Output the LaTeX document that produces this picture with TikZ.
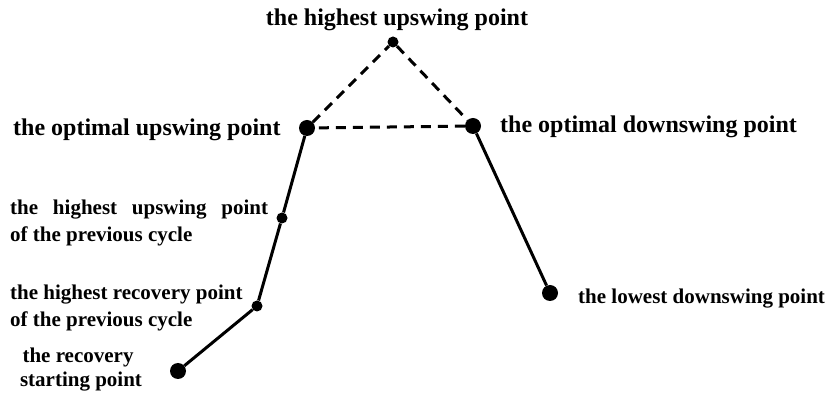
\documentclass[tikz,border=0pt]{standalone}
\usepackage{fontspec}
\setmainfont{Liberation Serif}
\begin{document}
\begin{tikzpicture}[x=1pt,y=-1pt,
    bigdot/.style={circle,fill,inner sep=0pt,minimum size=16pt},
    smalldot/.style={circle,fill,inner sep=0pt,minimum size=11pt},
    biglabel/.style={font=\fontsize{24}{28}\selectfont\bfseries,inner sep=0pt},
    smalllabel/.style={font=\fontsize{21}{27}\selectfont\bfseries,inner sep=0pt}]
    \useasboundingbox (0,0) rectangle (831,395);
    % points of the cycle
    \node[smalldot] (highest) at (393,42) {};
    \node[bigdot] (optup) at (307,128) {};
    \node[bigdot] (optdown) at (473,126) {};
    \node[smalldot] (prevup) at (282,218) {};
    \node[smalldot] (prevrec) at (257,306) {};
    \node[bigdot] (start) at (178,371) {};
    \node[bigdot] (lowest) at (550,293) {};
    % lines
    \draw[line width=3pt] (start) -- (prevrec) -- (prevup) -- (optup);
    \draw[line width=3pt] (optdown) -- (lowest);
    \draw[line width=3pt, dash pattern=on 10pt off 7pt] (optup) -- (highest) -- (optdown) -- (optup);
    % labels
    \node[biglabel, anchor=base] (lhighest) at (397,26) {the highest upswing point};
    \node[biglabel, anchor=base west] (loptup) at (13,136) {the optimal upswing point};
    \node[biglabel, anchor=base west] (loptdown) at (500,133) {the optimal downswing point};
    \node[smalllabel, anchor=base west] (lprevup1) at (10,215) {\makebox[258pt][s]{the highest upswing point}};
    \node[smalllabel, anchor=base west] (lprevup2) at (10,242) {of the previous cycle};
    \node[smalllabel, anchor=base west] (lprevrec1) at (10,300) {the highest recovery point};
    \node[smalllabel, anchor=base west] (lprevrec2) at (10,327) {of the previous cycle};
    \node[smalllabel, anchor=base] (lstart1) at (78,363) {the recovery};
    \node[smalllabel, anchor=base] (lstart2) at (81,387) {starting point};
    \node[smalllabel, anchor=base west] (llowest) at (578,304) {the lowest downswing point};
\end{tikzpicture}
\end{document}
